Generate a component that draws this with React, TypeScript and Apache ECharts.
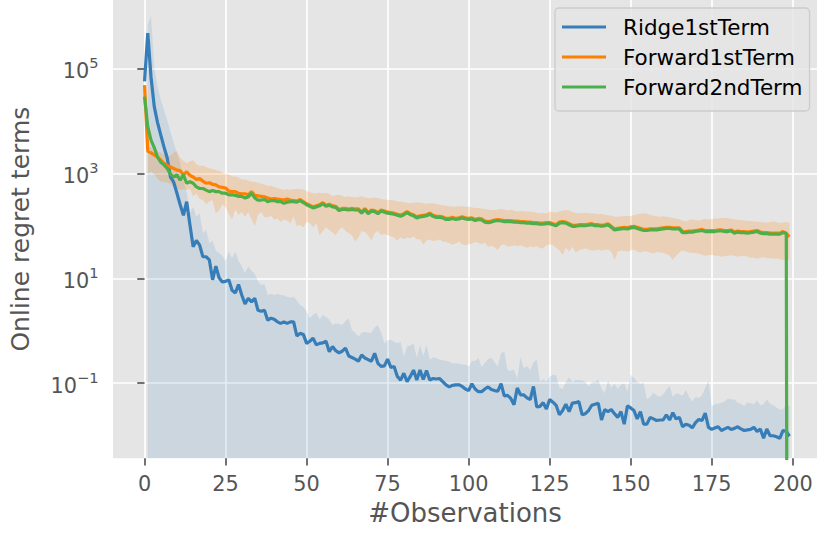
import React, { useEffect, useRef } from "react";
import * as echarts from "echarts";

// #Observations (x values)
const observations = Array.from({ length: 200 }, (_, i) => i);
const xTicks = [0, 25, 50, 75, 100, 125, 150, 175, 200];
const yTicks = [0.1, 10, 1000, 100000];
const seriesNames = ["Ridge1stTerm", "Forward1stTerm", "Forward2ndTerm"];

// values, stored as log10 exponents (axis is logarithmic)
const ridgeLog10 = [
  4.75, 5.67, 4.83, 4.27, 3.97, 3.73, 3.5, 3.29, 2.93, 2.83,
  2.62, 2.4, 2.2, 2.46, 2.02, 1.6, 1.72, 1.63, 1.41, 1.41,
  1.35, 0.97, 1.23, 1.01, 0.93, 0.94, 0.97, 0.77, 0.72, 0.88,
  0.68, 0.51, 0.62, 0.55, 0.62, 0.39, 0.37, 0.39, 0.2, 0.24,
  0.22, 0.17, 0.14, 0.17, 0.14, 0.17, 0.17, -0.1, -0.05, -0.07,
  -0.24, -0.2, -0.14, -0.27, -0.24, -0.23, -0.2, -0.4, -0.3, -0.38,
  -0.42, -0.39, -0.33, -0.48, -0.51, -0.54, -0.58, -0.46, -0.52, -0.55,
  -0.58, -0.43, -0.62, -0.68, -0.67, -0.54, -0.7, -0.68, -0.87, -0.94,
  -0.81, -0.97, -0.87, -0.75, -0.94, -0.75, -0.93, -0.76, -0.94, -0.91,
  -0.92, -0.91, -0.97, -1.03, -1.07, -1.04, -1.03, -1.03, -1.06, -1.11,
  -1.14, -1.01, -1.11, -1.16, -1.16, -1.11, -1.07, -1.12, -1.14, -1.15,
  -1.01, -1.24, -1.23, -1.29, -1.41, -1.09, -1.22, -1.22, -1.28, -1.31,
  -1.06, -1.45, -1.44, -1.37, -1.49, -1.31, -1.36, -1.42, -1.6, -1.52,
  -1.4, -1.54, -1.38, -1.37, -1.35, -1.6, -1.58, -1.52, -1.42, -1.4,
  -1.38, -1.7, -1.5, -1.54, -1.5, -1.58, -1.65, -1.54, -1.78, -1.43,
  -1.47, -1.52, -1.68, -1.54, -1.78, -1.78, -1.65, -1.68, -1.71, -1.7,
  -1.7, -1.6, -1.7, -1.56, -1.68, -1.65, -1.83, -1.78, -1.8, -1.85,
  -1.75, -1.69, -1.71, -1.57, -1.84, -1.88, -1.85, -1.83, -1.9, -1.87,
  -1.84, -1.88, -1.86, -1.83, -1.87, -1.9, -1.89, -1.88, -1.84, -1.92,
  -1.87, -2.05, -1.87, -2.0, -2.0, -2.02, -2.05, -1.9, -1.92, -2.01,
];

const ridgeUpperLog10 = [
  null, 5.83, 5.99, 5.03, 4.65, 4.4, 4.21, 4.01, 3.79, 3.57,
  3.39, 3.19, 2.87, 2.64, 2.24, 2.36, 2.17, 2.24, 1.86, 1.92,
  1.67, 1.72, 1.53, 1.48, 1.43, 1.33, 1.51, 1.38, 1.51, 1.33,
  1.23, 1.1, 1.23, 1.14, 1.09, 0.94, 0.87, 0.89, 0.68, 0.7,
  0.68, 0.7, 0.68, 0.67, 0.65, 0.63, 0.65, 0.57, 0.49, 0.45,
  0.37, 0.24, 0.31, 0.34, 0.22, 0.3, 0.26, 0.21, 0.11, 0.14,
  0.13, 0.11, 0.18, 0.24, 0.01, -0.04, -0.11, -0.04, -0.02, -0.04,
  -0.04, 0.06, 0.11, -0.04, -0.24, -0.18, -0.17, -0.21, -0.24, -0.21,
  -0.5, -0.3, -0.28, -0.24, -0.52, -0.27, -0.48, -0.27, -0.55, -0.51,
  -0.52, -0.55, -0.56, -0.57, -0.59, -0.62, -0.62, -0.63, -0.64, -0.65,
  -0.68, -0.58, -0.57, -0.52, -0.69, -0.62, -0.54, -0.52, -0.6, -0.68,
  -0.43, -0.4, -0.75, -0.76, -0.74, -0.91, -0.5, -0.72, -0.67, -0.75,
  -0.6, -0.55, -0.97, -0.93, -0.97, -0.87, -0.84, -0.85, -1.09, -1.11,
  -0.97, -0.89, -0.98, -0.94, -0.94, -0.95, -0.97, -1.06, -0.98, -0.97,
  -0.93, -1.11, -1.19, -0.95, -1.09, -1.01, -1.11, -1.03, -1.0, -1.16,
  -0.84, -0.9, -0.97, -1.01, -0.99, -1.31, -1.26, -1.18, -1.23, -1.26,
  -1.21, -1.13, -1.05, -1.26, -1.19, -1.21, -1.24, -1.13, -1.26, -1.35,
  -1.26, -1.28, -1.23, -1.09, -0.95, -1.44, -1.4, -1.39, -1.37, -1.35,
  -1.29, -1.31, -1.31, -1.37, -1.39, -1.44, -1.36, -1.38, -1.4, -1.33,
  -1.42, -1.4, -1.31, -1.39, -1.42, -1.46, -1.5, -1.5, -1.38, -1.45,
];

const forward1Log10 = [
  4.68, 3.42, 3.39, 3.35, 3.31, 3.25, 3.19, 3.15, 3.12, 3.09,
  3.06, 3.05, 2.97, 3.03, 2.96, 2.93, 2.88, 2.9, 2.85, 2.81,
  2.82, 2.79, 2.78, 2.74, 2.73, 2.72, 2.66, 2.65, 2.65, 2.62,
  2.61, 2.61, 2.59, 2.65, 2.58, 2.57, 2.56, 2.55, 2.53, 2.51,
  2.52, 2.51, 2.5, 2.49, 2.51, 2.49, 2.48, 2.47, 2.5, 2.46,
  2.42, 2.39, 2.36, 2.38, 2.4, 2.44, 2.39, 2.41, 2.38, 2.37,
  2.31, 2.33, 2.33, 2.32, 2.33, 2.32, 2.32, 2.26, 2.33, 2.25,
  2.3, 2.29, 2.25, 2.3, 2.28, 2.26, 2.25, 2.24, 2.22, 2.2,
  2.23, 2.27, 2.23, 2.21, 2.17, 2.19, 2.2, 2.21, 2.24, 2.2,
  2.18, 2.18, 2.17, 2.14, 2.14, 2.16, 2.14, 2.15, 2.17, 2.15,
  2.14, 2.15, 2.12, 2.14, 2.13, 2.09, 2.08, 2.09, 2.11, 2.12,
  2.11, 2.1, 2.1, 2.1, 2.09, 2.09, 2.08, 2.08, 2.07, 2.07,
  2.06, 2.06, 2.05, 2.05, 2.06, 2.06, 2.04, 2.02, 2.07, 2.08,
  2.07, 2.04, 2.01, 2.01, 2.02, 2.02, 2.02, 2.03, 2.04, 2.02,
  2.02, 2.01, 2.02, 2.04, 1.99, 1.94, 1.95, 1.96, 1.97, 1.96,
  1.98, 1.99, 1.97, 1.95, 1.93, 1.93, 1.94, 1.94, 1.94, 1.95,
  1.96, 1.97, 1.97, 1.96, 1.96, 1.96, 1.89, 1.89, 1.9, 1.9,
  1.91, 1.92, 1.93, 1.91, 1.91, 1.91, 1.91, 1.92, 1.92, 1.91,
  1.91, 1.92, 1.88, 1.9, 1.89, 1.89, 1.88, 1.89, 1.9, 1.91,
  1.88, 1.87, 1.87, 1.86, 1.86, 1.86, 1.86, 1.89, 1.85, 1.79,
];

const forward1UpperLog10 = [
  null, 3.49, 3.5, 3.47, 3.42, 3.39, 3.36, 3.32, 3.34, 3.39,
  3.42, 3.29, 3.24, 3.19, 3.23, 3.25, 3.17, 3.14, 3.15, 3.12,
  3.09, 3.08, 3.06, 3.05, 3.02, 2.98, 2.98, 2.94, 2.94, 2.92,
  2.88, 2.88, 2.86, 2.84, 2.84, 2.82, 2.8, 2.78, 2.76, 2.76,
  2.74, 2.72, 2.7, 2.68, 2.7, 2.68, 2.7, 2.7, 2.7, 2.69,
  2.66, 2.64, 2.62, 2.62, 2.63, 2.62, 2.63, 2.61, 2.56, 2.58,
  2.59, 2.57, 2.55, 2.56, 2.55, 2.54, 2.55, 2.56, 2.54, 2.53,
  2.53, 2.54, 2.53, 2.51, 2.5, 2.49, 2.49, 2.48, 2.46, 2.46,
  2.45, 2.44, 2.43, 2.44, 2.45, 2.44, 2.43, 2.42, 2.43, 2.43,
  2.42, 2.4, 2.39, 2.38, 2.37, 2.36, 2.36, 2.37, 2.37, 2.36,
  2.36, 2.35, 2.34, 2.34, 2.33, 2.32, 2.31, 2.3, 2.3, 2.31,
  2.32, 2.31, 2.29, 2.31, 2.29, 2.27, 2.28, 2.27, 2.27, 2.27,
  2.26, 2.25, 2.24, 2.25, 2.23, 2.27, 2.26, 2.25, 2.27, 2.29,
  2.3, 2.29, 2.26, 2.25, 2.24, 2.24, 2.25, 2.24, 2.24, 2.23,
  2.22, 2.23, 2.21, 2.2, 2.19, 2.17, 2.17, 2.18, 2.18, 2.19,
  2.18, 2.2, 2.22, 2.23, 2.24, 2.23, 2.21, 2.19, 2.18, 2.17,
  2.18, 2.17, 2.16, 2.15, 2.14, 2.12, 2.1, 2.08, 2.11, 2.12,
  2.11, 2.1, 2.12, 2.13, 2.12, 2.13, 2.14, 2.14, 2.15, 2.15,
  2.15, 2.13, 2.12, 2.11, 2.11, 2.1, 2.09, 2.09, 2.08, 2.08,
  2.07, 2.06, 2.06, 2.07, 2.08, 2.07, 2.05, 2.06, 2.07, 2.05,
];

const forward1LowerLog10 = [
  null, 2.98, 3.04, 2.98, 2.9, 2.84, 2.84, 2.82, 2.8, 2.74,
  2.72, 2.68, 2.7, 2.68, 2.7, 2.56, 2.61, 2.51, 2.49, 2.41,
  2.46, 2.49, 2.24, 2.29, 2.41, 2.35, 2.23, 2.12, 2.31, 2.21,
  2.26, 2.17, 2.26, 2.12, 1.99, 2.21, 2.26, 2.16, 2.16, 2.19,
  2.12, 2.14, 2.07, 2.12, 2.1, 2.05, 2.17, 1.99, 2.02, 1.97,
  2.07, 2.05, 1.97, 2.05, 1.82, 1.9, 1.97, 1.92, 1.87, 1.82,
  1.92, 1.97, 1.9, 1.86, 1.82, 1.7, 1.78, 1.9, 1.88, 1.82,
  1.72, 1.86, 1.9, 1.82, 1.85, 1.82, 1.8, 1.77, 1.72, 1.78,
  1.75, 1.77, 1.76, 1.8, 1.74, 1.75, 1.64, 1.72, 1.74, 1.71,
  1.72, 1.74, 1.7, 1.69, 1.67, 1.64, 1.66, 1.7, 1.65, 1.63,
  1.65, 1.66, 1.69, 1.67, 1.65, 1.68, 1.6, 1.62, 1.59, 1.54,
  1.63, 1.65, 1.6, 1.61, 1.63, 1.61, 1.63, 1.6, 1.58, 1.61,
  1.59, 1.61, 1.57, 1.57, 1.63, 1.65, 1.63, 1.58, 1.53, 1.45,
  1.58, 1.51, 1.6, 1.49, 1.53, 1.55, 1.57, 1.55, 1.53, 1.53,
  1.55, 1.53, 1.54, 1.55, 1.51, 1.35, 1.51, 1.53, 1.52, 1.51,
  1.53, 1.55, 1.51, 1.49, 1.51, 1.51, 1.49, 1.47, 1.5, 1.49,
  1.48, 1.46, 1.43, 1.35, 1.43, 1.49, 1.53, 1.51, 1.49, 1.48,
  1.48, 1.47, 1.45, 1.43, 1.44, 1.45, 1.43, 1.43, 1.41, 1.42,
  1.43, 1.44, 1.43, 1.41, 1.42, 1.43, 1.41, 1.39, 1.39, 1.37,
  1.39, 1.4, 1.38, 1.38, 1.37, 1.38, 1.36, 1.35, 1.37, 1.35,
];

const forward2Log10 = [
  4.46, 3.89, 3.63, 3.49, 3.31, 3.21, 3.16, 3.09, 2.98, 2.93,
  2.97, 2.87, 2.97, 2.81, 2.84, 2.81, 2.74, 2.71, 2.71, 2.68,
  2.65, 2.67, 2.65, 2.65, 2.62, 2.62, 2.59, 2.59, 2.58, 2.56,
  2.56, 2.53, 2.55, 2.62, 2.53, 2.49, 2.49, 2.5, 2.46, 2.48,
  2.48, 2.46, 2.46, 2.43, 2.45, 2.46, 2.46, 2.45, 2.48, 2.44,
  2.4, 2.37, 2.34, 2.36, 2.38, 2.42, 2.37, 2.39, 2.36, 2.35,
  2.29, 2.31, 2.31, 2.3, 2.31, 2.3, 2.3, 2.24, 2.31, 2.23,
  2.28, 2.27, 2.23, 2.28, 2.26, 2.24, 2.23, 2.22, 2.2, 2.18,
  2.21, 2.25, 2.21, 2.19, 2.15, 2.17, 2.18, 2.19, 2.22, 2.18,
  2.16, 2.16, 2.15, 2.12, 2.12, 2.14, 2.12, 2.13, 2.15, 2.13,
  2.12, 2.13, 2.1, 2.12, 2.11, 2.07, 2.06, 2.07, 2.09, 2.1,
  2.09, 2.08, 2.08, 2.08, 2.07, 2.07, 2.06, 2.06, 2.05, 2.05,
  2.04, 2.04, 2.03, 2.03, 2.04, 2.04, 2.02, 2.0, 2.05, 2.06,
  2.05, 2.02, 1.99, 1.99, 2.0, 2.0, 2.0, 2.01, 2.02, 2.0,
  2.0, 1.99, 2.0, 2.02, 1.97, 1.92, 1.93, 1.94, 1.95, 1.94,
  1.96, 1.97, 1.95, 1.93, 1.91, 1.91, 1.92, 1.92, 1.92, 1.93,
  1.94, 1.95, 1.95, 1.94, 1.94, 1.94, 1.87, 1.87, 1.88, 1.88,
  1.89, 1.9, 1.91, 1.89, 1.89, 1.89, 1.89, 1.9, 1.9, 1.89,
  1.89, 1.9, 1.86, 1.88, 1.87, 1.87, 1.86, 1.87, 1.88, 1.89,
  1.86, 1.85, 1.85, 1.84, 1.84, 1.84, 1.84, 1.87, 1.86, -30,
];

const COLORS = ["#377eb8", "#ff7f00", "#4daf4a"];
const FONT = "DejaVu Sans";
const TEXT_GREY = "#555555";

const toValue = (e: number | null) => (e == null ? null : Math.pow(10, e));
const pairs = (arr: (number | null)[]) =>
  observations
    .map((x, i) => [x, toValue(arr[i])])
    .filter((p) => p[1] != null);

const forwardBand = observations
  .map((x, i) => [x, toValue(forward1LowerLog10[i]), toValue(forward1UpperLog10[i])])
  .filter((p) => p[1] != null && p[2] != null);

const supLabel = (v: number) => {
  const e = Math.round(Math.log10(v));
  const s = e < 0 ? "\u2212" + String(-e) : String(e);
  return `{b|10}{s|${s}}`;
};

export default function App() {
  const ref = useRef<HTMLDivElement>(null);
  useEffect(() => {
    if (!ref.current) return;
    const chart = echarts.init(ref.current, undefined, { renderer: "svg" });
    const option: any = {
      animation: false,
      backgroundColor: "#ffffff",
      textStyle: { fontFamily: FONT },
      grid: {
        left: 111.7,
        right: 0,
        top: 0,
        bottom: 77.7,
        show: true,
        backgroundColor: "#e5e5e5",
        borderWidth: 0,
      },
      legend: {
        data: seriesNames,
        orient: "vertical",
        left: 555,
        top: 8,
        icon: "rect",
        itemWidth: 44,
        itemHeight: 3.1,
        itemGap: 8,
        padding: [8, 7, 13, 7],
        backgroundColor: "rgba(229,229,229,0.8)",
        borderColor: "#cccccc",
        borderWidth: 1.3,
        borderRadius: 4,
        textStyle: {
          fontSize: 21.5,
          color: "#000000",
          fontFamily: FONT,
          lineHeight: 21,
          padding: [0, 0, 0, 12],
        },
      },
      xAxis: {
        type: "value",
        min: -9.73,
        max: 207.48,
        name: "#Observations",
        nameLocation: "middle",
        nameGap: 42,
        nameTextStyle: { fontSize: 26, color: TEXT_GREY, fontFamily: FONT },
        axisLine: { show: false },
        axisTick: {
          show: true,
          length: 7.3,
          customValues: xTicks,
          lineStyle: { color: TEXT_GREY, width: 1.67 },
        },
        axisLabel: {
          customValues: xTicks,
          fontSize: 20.83,
          color: TEXT_GREY,
          margin: 15.5,
          fontFamily: FONT,
        },
        splitLine: { show: true, lineStyle: { color: "#ffffff", width: 1.67 } },
      },
      yAxis: {
        type: "log",
        logBase: 10,
        min: 0.003715,
        max: 2.0e6,
        name: "Online regret terms",
        nameLocation: "middle",
        nameGap: 80,
        nameRotate: 90,
        nameTextStyle: { fontSize: 25, color: TEXT_GREY, fontFamily: FONT },
        axisLine: { show: false },
        axisTick: {
          show: true,
          length: 7.3,
          customValues: yTicks,
          lineStyle: { color: TEXT_GREY, width: 1.67 },
        },
        axisLabel: {
          customValues: yTicks,
          formatter: supLabel,
          margin: 14.5,
          color: TEXT_GREY,
          fontFamily: FONT,
          rich: {
            b: { fontSize: 20.83, lineHeight: 26, verticalAlign: "bottom", color: TEXT_GREY, fontFamily: FONT },
            s: { fontSize: 14.6, lineHeight: 15, verticalAlign: "top", color: TEXT_GREY, fontFamily: FONT },
          },
        },
        splitLine: { show: true, lineStyle: { color: "#ffffff", width: 1.67 } },
      },
      series: [
        {
          name: "Ridge1stTerm band",
          type: "line",
          data: pairs(ridgeUpperLog10),
          symbol: "none",
          silent: true,
          z: 1,
          lineStyle: { width: 0, color: "rgba(0,0,0,0)" },
          itemStyle: { color: COLORS[0] },
          areaStyle: { color: "rgba(55,126,184,0.2)", origin: "start" },
        },
        {
          name: "Forward1stTerm band",
          type: "custom",
          silent: true,
          z: 1,
          data: forwardBand,
          encode: { x: 0, y: [1, 2] },
          renderItem: (params: any, api: any) => {
            if (params.dataIndex !== 0) return null;
            const up = forwardBand.map((p) => api.coord([p[0], p[2]]));
            const lo = forwardBand.map((p) => api.coord([p[0], p[1]])).reverse();
            return {
              type: "polygon",
              shape: { points: up.concat(lo) },
              style: { fill: "rgba(255,127,0,0.2)", stroke: "none" },
            };
          },
        },
        {
          name: seriesNames[0],
          type: "line",
          data: pairs(ridgeLog10),
          symbol: "none",
          z: 2,
          color: COLORS[0],
          lineStyle: { width: 3.2, color: COLORS[0] },
        },
        {
          name: seriesNames[1],
          type: "line",
          data: pairs(forward1Log10),
          symbol: "none",
          z: 3,
          color: COLORS[1],
          lineStyle: { width: 3.2, color: COLORS[1] },
        },
        {
          name: seriesNames[2],
          type: "line",
          data: pairs(forward2Log10),
          symbol: "none",
          z: 4,
          color: COLORS[2],
          lineStyle: { width: 3.2, color: COLORS[2] },
        },
      ],
    };
    chart.setOption(option);
    return () => chart.dispose();
  }, []);
  return (
    <div
      ref={ref}
      style={{ position: "absolute", left: 0, top: 0, width: 817, height: 536 }}
    />
  );
}
